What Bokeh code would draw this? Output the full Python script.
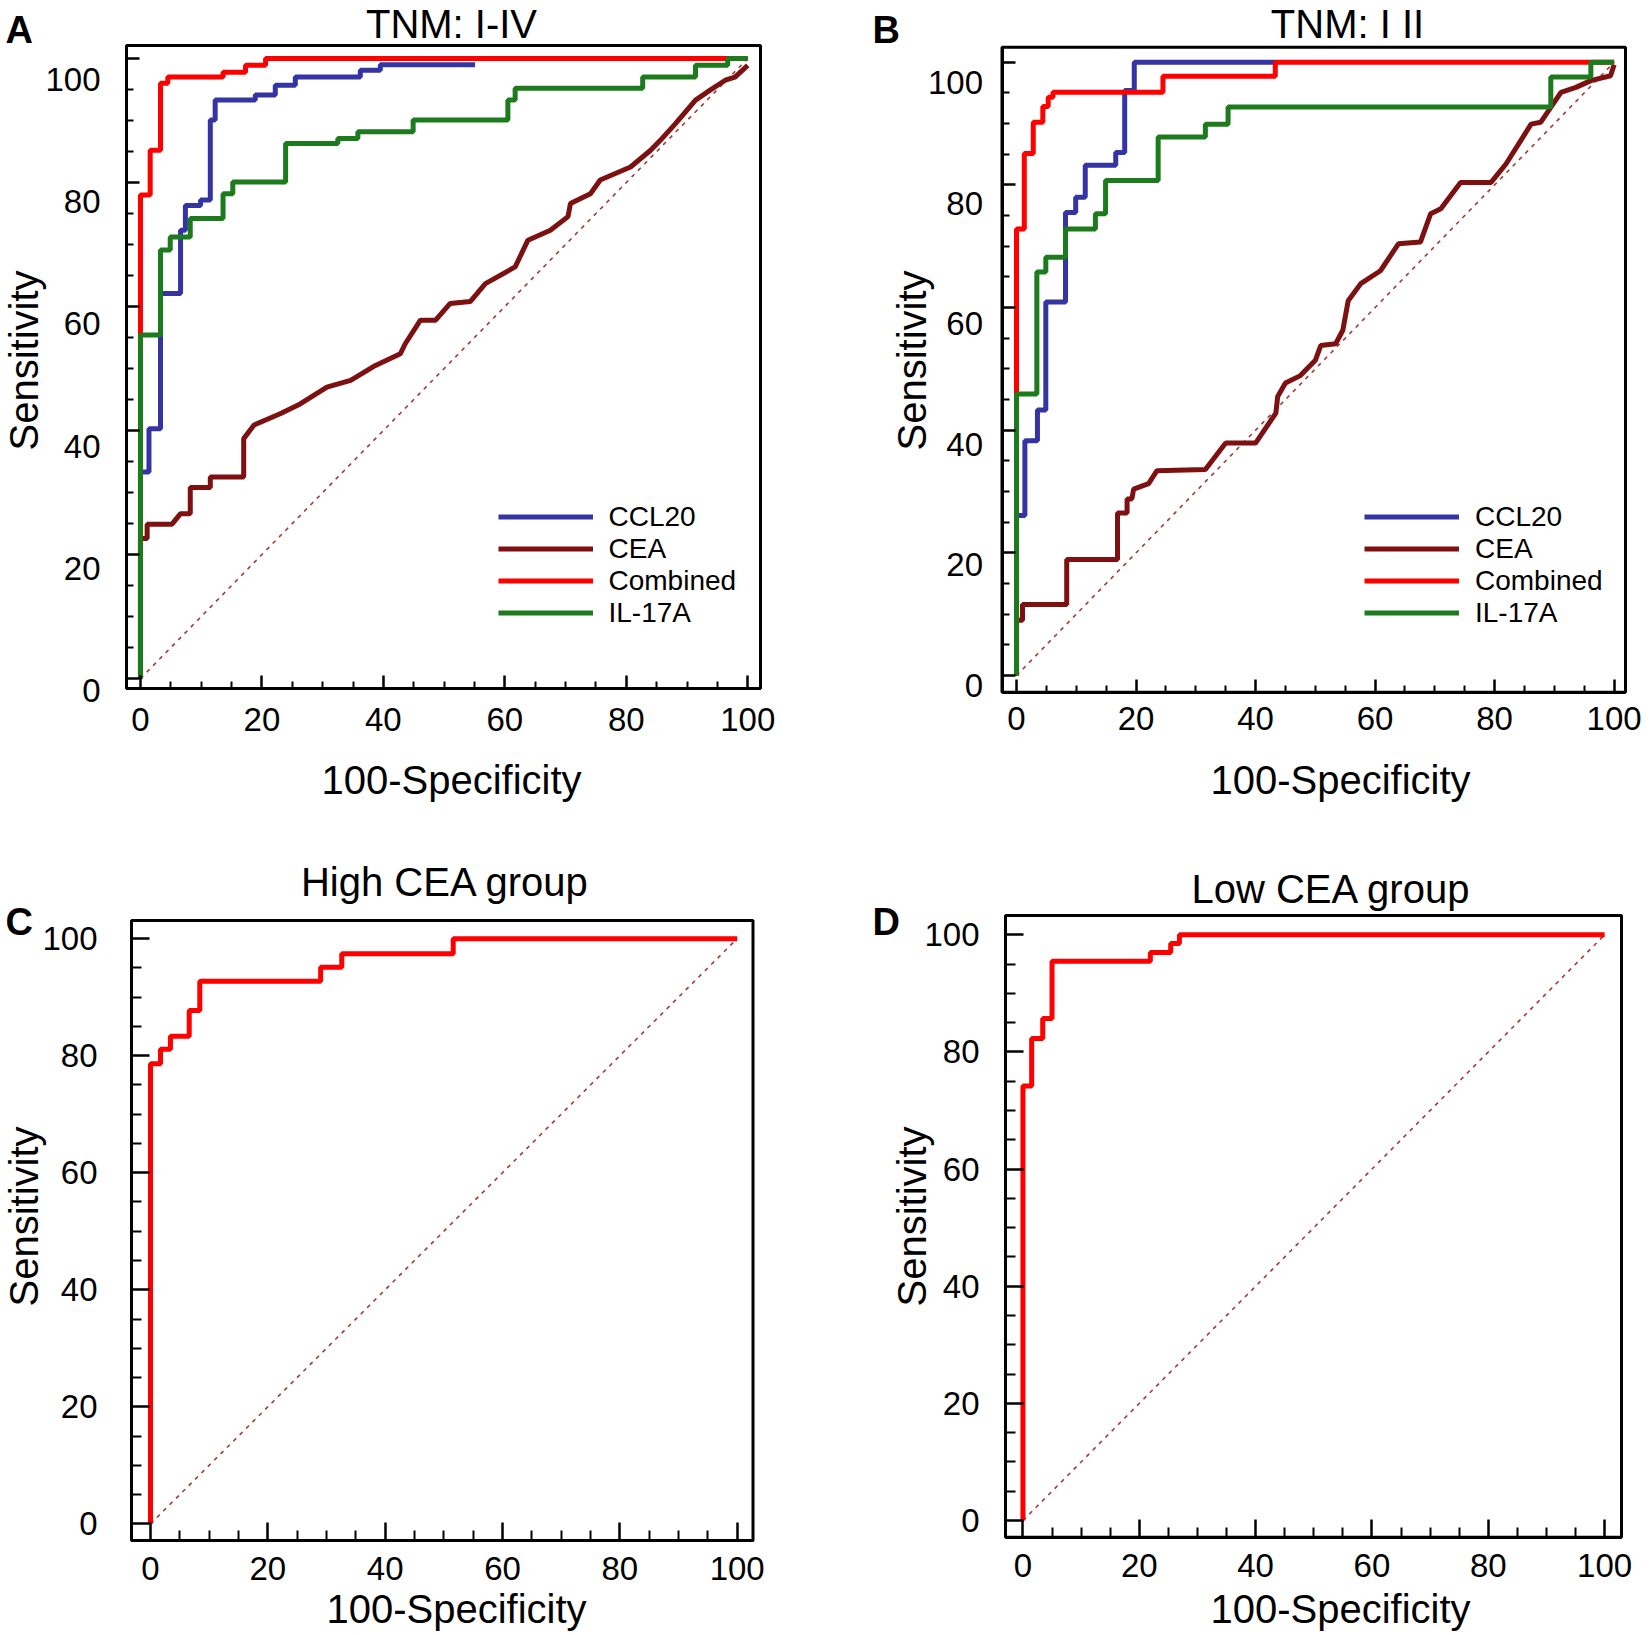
from bokeh.plotting import figure
from bokeh.models import (Label, Legend, LegendItem, FixedTicker, Range1d, LinearAxis,
                          BoxAnnotation, Grid)
from bokeh.layouts import row, column
from bokeh.embed import file_html
from bokeh.resources import INLINE
import math

FONT = "Liberation Sans"
BLUE = "#3434a2"
MAROON = "#7d1010"
RED = "#ff0000"
GREEN = "#1d7b1d"
DIAG = "#a33a3a"

major_ticks = [0, 20, 40, 60, 80, 100]
minor_ticks = [5, 10, 15, 25, 30, 35, 45, 50, 55, 65, 70, 75, 85, 90, 95]
diag_x = [0, 100]
diag_y = [0, 100]
legend_names = ["CCL20", "CEA", "Combined", "IL-17A"]

# ---------------- Panel A : TNM I-IV ----------------
a_ccl20_x = [0, 0, 1.4, 1.4, 3.3, 3.3, 6.6, 6.6, 7.4, 7.4, 9.9, 9.9, 11.5, 11.5, 12.3, 12.3,
             18.9, 18.9, 22.2, 22.2, 25.5, 25.5, 36.2, 36.2, 39.5, 39.5, 55.1]
a_ccl20_y = [0, 33.3, 33.3, 40.3, 40.3, 62.1, 62.1, 72.3, 72.3, 76.3, 76.3, 77.2, 77.2, 90.1, 90.1, 93.3,
             93.3, 94.1, 94.1, 95.7, 95.7, 97.0, 97.0, 98.1, 98.1, 99.0, 99.0]
a_cea_x = [0, 0, 1.1, 1.1, 5.2, 6.6, 8.2, 8.2, 11.5, 11.5, 17.0, 17.0, 18.7, 23.0, 26.3, 30.7, 34.6,
           38.7, 42.8, 43.6, 46.1, 48.6, 51.0, 54.3, 56.8, 61.7, 63.8, 67.5, 70.4, 70.8, 74.1, 75.7,
           80.7, 84.0, 85.6, 88.1, 91.4, 93.8, 96.3, 97.9, 100]
a_cea_y = [0, 22.6, 22.6, 24.9, 24.9, 26.6, 26.6, 30.8, 30.8, 32.5, 32.5, 38.7, 40.9, 42.7, 44.3, 47.0, 48.1,
           50.5, 52.4, 54.0, 57.8, 57.8, 60.5, 60.8, 63.7, 66.4, 70.7, 72.3, 74.5, 76.6, 78.2, 80.4,
           82.5, 85.2, 86.8, 89.5, 93.3, 94.9, 96.5, 97.0, 98.9]
a_comb_x = [0, 0, 1.6, 1.6, 3.3, 3.3, 4.5, 4.5, 13.6, 13.6, 17.3, 17.3, 20.6, 20.6, 100]
a_comb_y = [0, 78.0, 78.0, 85.2, 85.2, 96.0, 96.0, 97.0, 97.0, 97.8, 97.8, 98.9, 98.9, 100, 100]
a_il17_x = [0, 0, 3.3, 3.3, 4.9, 4.9, 8.2, 8.2, 13.6, 13.6, 15.2, 15.2, 23.9, 23.9, 32.5, 32.5,
            35.8, 35.8, 44.9, 44.9, 60.5, 60.5, 61.7, 61.7, 82.7, 82.7, 91.4, 91.4, 96.7, 96.7, 100]
a_il17_y = [0, 55.4, 55.4, 69.1, 69.1, 71.2, 71.2, 74.2, 74.2, 78.2, 78.2, 80.1, 80.1, 86.3, 86.3, 87.1,
            87.1, 88.2, 88.2, 90.1, 90.1, 93.3, 93.3, 95.2, 95.2, 97.0, 97.0, 98.9, 98.9, 100, 100]

# ---------------- Panel B : TNM I II ----------------
b_ccl20_x = [0, 0, 1.4, 1.4, 3.5, 3.5, 4.9, 4.9, 8.2, 8.2, 9.9, 9.9, 11.5, 11.5, 16.6, 16.6,
             18.1, 18.1, 19.7, 19.7, 43.3]
b_ccl20_y = [0, 26.1, 26.1, 38.3, 38.3, 43.3, 43.3, 60.9, 60.9, 75.5, 75.5, 78.0, 78.0, 83.2, 83.2, 85.3,
             85.3, 95.4, 95.4, 100, 100]
b_cea_x = [0, 0, 1.0, 1.0, 8.4, 8.4, 16.9, 16.9, 18.5, 18.5, 19.3, 19.6, 22.1, 23.5, 31.6, 35.0, 40.0,
           43.4, 43.7, 45.0, 47.5, 50.0, 50.9, 53.4, 54.6, 55.5, 57.6, 60.9, 63.9, 67.6, 69.3, 71.0,
           74.3, 79.4, 81.9, 86.1, 87.7, 91.1, 93.6, 96.1, 99.4, 100]
b_cea_y = [0, 9.0, 9.0, 11.6, 11.6, 18.9, 18.9, 26.5, 26.5, 28.8, 28.8, 30.4, 31.3, 33.4, 33.6, 37.9, 37.9,
           42.8, 45.5, 47.7, 48.9, 51.4, 53.8, 54.1, 56.3, 61.1, 63.9, 66.0, 70.4, 70.7, 75.3, 76.1,
           80.4, 80.4, 83.4, 89.9, 90.2, 95.1, 95.9, 97.0, 97.8, 99.6]
b_comb_x = [0, 0, 1.3, 1.3, 2.8, 2.8, 4.4, 4.4, 5.3, 5.3, 6.1, 6.1, 24.5, 24.5, 43.3, 43.3, 100]
b_comb_y = [0, 72.8, 72.8, 85.1, 85.1, 90.2, 90.2, 92.8, 92.8, 94.3, 94.3, 95.1, 95.1, 97.7, 97.7, 100, 100]
b_il17_x = [0, 0, 3.4, 3.4, 4.9, 4.9, 8.2, 8.2, 13.2, 13.2, 14.9, 14.9, 23.7, 23.7, 31.6, 31.6,
            35.4, 35.4, 89.4, 89.4, 96.1, 96.1, 100]
b_il17_y = [0, 45.9, 45.9, 65.8, 65.8, 68.2, 68.2, 72.8, 72.8, 75.3, 75.3, 80.7, 80.7, 87.8, 87.8, 89.9,
            89.9, 92.7, 92.7, 97.6, 97.6, 100, 100]

# ---------------- Panel C : High CEA group ----------------
c_comb_x = [0, 0, 1.7, 1.7, 3.4, 3.4, 6.6, 6.6, 8.4, 8.4, 29.0, 29.0, 32.6, 32.6, 51.6, 51.6, 100]
c_comb_y = [0, 78.6, 78.6, 81.1, 81.1, 83.3, 83.3, 87.7, 87.7, 92.7, 92.7, 95.1, 95.1, 97.4, 97.4, 100, 100]

# ---------------- Panel D : Low CEA group ----------------
d_comb_x = [0, 0, 1.5, 1.5, 3.4, 3.4, 5.0, 5.0, 21.9, 21.9, 25.4, 25.4, 26.9, 26.9, 100]
d_comb_y = [0, 74.2, 74.2, 82.3, 82.3, 85.7, 85.7, 95.5, 95.5, 97.0, 97.0, 98.5, 98.5, 100, 100]


def style_axis(ax, standoff, tick_len, minor_len):
    ax.ticker = FixedTicker(ticks=major_ticks, minor_ticks=minor_ticks)
    ax.axis_line_width = 3
    ax.axis_line_color = "black"
    ax.major_tick_in = tick_len
    ax.major_tick_out = 0
    ax.minor_tick_in = minor_len
    ax.minor_tick_out = 0
    ax.major_tick_line_width = 2.5
    ax.minor_tick_line_width = 2
    ax.major_label_text_font = FONT
    ax.major_label_text_font_size = "33px"
    ax.major_label_text_color = "black"
    ax.major_label_standoff = standoff


def make_panel(W, H, box_px, box_dat, tick_len, minor_len, xstand, ystand, ylab_px=None):
    bl, br, bt, bb = box_px
    x0, x1, y0, y1 = box_dat
    kx = (x1 - x0) / (br - bl)
    ky = (y1 - y0) / (bb - bt)
    p = figure(width=W, height=H,
               x_range=Range1d(x0 - bl * kx, x1 + (W - br) * kx),
               y_range=Range1d(y0 - (H - bb) * ky, y1 + bt * ky),
               x_axis_type=None, y_axis_type=None, min_border=0,
               output_backend="svg", toolbar_location=None)
    p.center = [c for c in p.center if not isinstance(c, Grid)]
    p.outline_line_color = None
    p.background_fill_color = "white"
    p.border_fill_color = "white"

    xa = LinearAxis(fixed_location=y0, bounds=(x0, x1))
    style_axis(xa, xstand, tick_len, minor_len)
    p.add_layout(xa, "below")
    ya = LinearAxis(fixed_location=x0, bounds=(y0, y1))
    style_axis(ya, ystand, tick_len, minor_len)
    p.add_layout(ya, "left")
    if ylab_px is not None:
        py100, py0 = ylab_px
        k = 100.0 / (py0 - py100)
        p.extra_y_ranges = {"lab": Range1d(-(H - py0) * k, py0 * k)}
        ya.major_label_overrides = {t: "" for t in major_ticks}
        la = LinearAxis(y_range_name="lab", fixed_location=x0)
        style_axis(la, ystand, 0, 0)
        la.ticker = FixedTicker(ticks=major_ticks, minor_ticks=[])
        la.axis_line_color = None
        la.major_tick_line_color = None
        la.minor_tick_line_color = None
        p.add_layout(la, "left")

    p.add_layout(BoxAnnotation(left=x0, right=x1, bottom=y0, top=y1, fill_alpha=0,
                               line_color="black", line_width=3, line_alpha=1))
    p.line(diag_x, diag_y, line_color=DIAG, line_width=1.6, line_dash="4 5")
    return p


def add_label(p, H, text, x, y, size, bold=False, angle=0.0, align="center"):
    # (x, y): canvas pixels of the text's middle line
    p.add_layout(Label(x=x, y=H - y, x_units="screen", y_units="screen", text=text,
                       text_font=FONT, text_font_size=size,
                       text_font_style="bold" if bold else "normal",
                       text_align=align, text_baseline="middle", angle=angle,
                       text_color="black"))


def add_texts(p, H, letter, lpos, title, tpos, spos, xpos):
    add_label(p, H, letter, lpos[0], lpos[1], "38px", bold=True, align="left")
    add_label(p, H, title, tpos[0], tpos[1], "40px")
    add_label(p, H, "Sensitivity", spos[0], spos[1], "40px", angle=math.pi / 2)
    add_label(p, H, "100-Specificity", xpos[0], xpos[1], "40px")


def add_curves(p, H, cx, cy, ex, ey, rx, ry, gx, gy, leg_left, leg_bottom):
    lw = 5
    r_cea = p.line(ex, ey, line_color=MAROON, line_width=lw)
    r_ccl = p.line(cx, cy, line_color=BLUE, line_width=lw)
    r_comb = p.line(rx, ry, line_color=RED, line_width=lw)
    r_il = p.line(gx, gy, line_color=GREEN, line_width=lw)
    items = [LegendItem(label=n, renderers=[r]) for n, r in
             zip(legend_names, [r_ccl, r_cea, r_comb, r_il])]
    leg = Legend(items=items, location=(leg_left, H - leg_bottom), padding=0, margin=0, spacing=0,
                 glyph_width=95, glyph_height=31, label_height=31, label_standoff=16,
                 label_text_font=FONT, label_text_font_size="28px", label_text_color="black",
                 border_line_alpha=0, background_fill_alpha=0)
    p.add_layout(leg)


# Panel A
HA = 808
pA = make_panel(828, HA, (126, 760, 45, 688), (-2.3, 102.1, -1.6, 102.1), 13, 7, 19, 26, (79, 690))
add_curves(pA, HA, a_ccl20_x, a_ccl20_y, a_cea_x, a_cea_y, a_comb_x, a_comb_y, a_il17_x, a_il17_y,
           497.5, 628.7)
add_texts(pA, HA, "A", (5, 29.7), "TNM: I-IV", (451, 23), (23, 360), (451, 779))

# Panel B
HB = 808
pB = make_panel(822, HB, (173.5, 797, 46.7, 691.7), (-2.43, 101.9, -2.72, 102.45), 13, 7, 15, 19,
                (82, 685))
add_curves(pB, HB, b_ccl20_x, b_ccl20_y, b_cea_x, b_cea_y, b_comb_x, b_comb_y, b_il17_x, b_il17_y,
           536, 628.7)
add_texts(pB, HB, "B", (44, 29.7), "TNM: I II", (519, 23), (83, 360), (512, 779))

# Panel C
HC = 825
pC = make_panel(828, HC, (131, 752.5, 112, 732), (-3.24, 102.7, -2.85, 103.1), 18, 10, 16, 34)
pC.line(c_comb_x, c_comb_y, line_color=RED, line_width=5)
add_texts(pC, HC, "C", (5, 113.7), "High CEA group", (445, 73), (23, 408), (456, 800))

# Panel D
HD = 825
pD = make_panel(822, HD, (177, 793, 107, 728.7), (-3.0, 102.9, -2.85, 103.3), 18, 10, 17, 26)
pD.line(d_comb_x, d_comb_y, line_color=RED, line_width=5)
add_texts(pD, HD, "D", (44, 113.7), "Low CEA group", (503, 80), (83, 408), (512, 800))

layout = column(row(pA, pB), row(pC, pD))
open("out.html", "w").write(file_html(layout, INLINE))
